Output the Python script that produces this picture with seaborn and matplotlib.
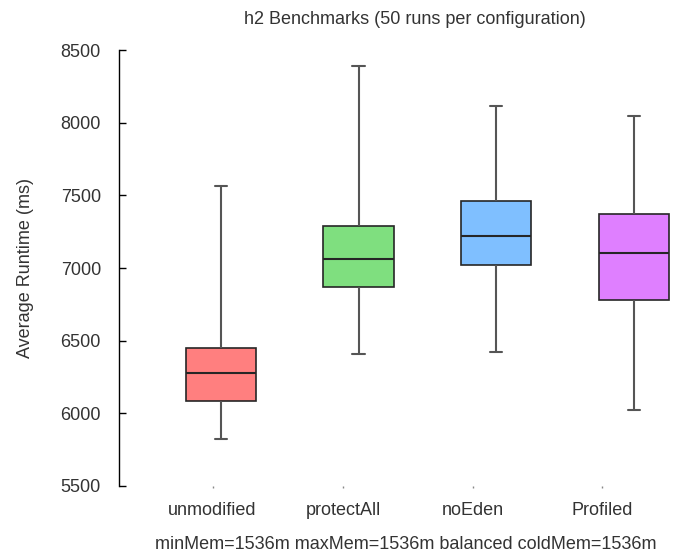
import matplotlib
matplotlib.use("Agg")
import matplotlib.pyplot as plt
import seaborn as sns
import pandas as pd

categories = ["unmodified", "protectAll", "noEden", "Profiled"]
mins = [5825, 6410, 6425, 6025]
q1s = [6085, 6870, 7020, 6780]
medians = [6278, 7062, 7220, 7103]
q3s = [6450, 7292, 7458, 7375]
maxs = [7566, 8390, 8112, 8046]
colors = ["#FF7F7F", "#7FDF7F", "#7FBFFF", "#DF7FFF"]
title = "h2 Benchmarks (50 runs per configuration)"
xlabel = "minMem=1536m maxMem=1536m balanced coldMem=1536m"
ylabel = "Average Runtime (ms)"
yticks = [5500, 6000, 6500, 7000, 7500, 8000, 8500]

rows = []
for c, a, b, m, d, e in zip(categories, mins, q1s, medians, q3s, maxs):
    for v in (a, b, m, d, e):
        rows.append({"config": c, "runtime": v})
df = pd.DataFrame(rows)

sns.set_theme(style="white")
plt.rcParams["font.family"] = ["Liberation Sans", "DejaVu Sans"]

fig = plt.figure(figsize=(6.93, 5.57), dpi=100)
ax = fig.add_axes([0.1717, 0.1275, 0.8283, 0.7827])

sns.boxplot(data=df, x="config", y="runtime", hue="config", palette=colors,
            order=categories, hue_order=categories, legend=False,
            whis=(0, 100), width=0.51, saturation=1, ax=ax,
            boxprops=dict(edgecolor="#262626", linewidth=1.2),
            medianprops=dict(color="#262626", linewidth=1.5),
            whiskerprops=dict(color="#555555", linewidth=1.5),
            capprops=dict(color="#555555", linewidth=1.5))

# narrow the caps
for ln in ax.lines:
    xd = list(ln.get_xdata())
    yd = list(ln.get_ydata())
    if len(xd) == 2 and yd[0] == yd[1] and (yd[0] in mins or yd[0] in maxs) and ln.get_color() == "#555555":
        cx = (xd[0] + xd[1]) / 2
        ln.set_xdata([cx - 0.045, cx + 0.045])

ax.set_xlim(-0.74, 3.43)
ax.set_ylim(5500, 8500)
ax.set_yticks(yticks)
ax.set_yticklabels([str(t) for t in yticks])
ax.set_xticks([-0.06, 0.89, 1.83, 2.77])
ax.set_xticklabels(categories)

for s in ("top", "right", "bottom"):
    ax.spines[s].set_visible(False)
ax.spines["left"].set_color("#000000")
ax.spines["left"].set_linewidth(1.0)

fs = 13
ax.tick_params(axis="y", direction="in", length=5, width=1, color="#000000",
               pad=13, labelsize=fs, labelcolor="#333333", left=True)
ax.tick_params(axis="x", direction="out", length=1.5, width=1, color="#888888",
               pad=10, labelsize=fs, labelcolor="#333333", bottom=True)

ax.set_title(title, fontsize=fs, color="#333333", pad=19, x=0.515)
ax.set_xlabel(xlabel, fontsize=fs, color="#333333", labelpad=12)
ax.set_ylabel(ylabel, fontsize=fs, color="#333333", labelpad=19)

fig.savefig("out.png", dpi=100)
